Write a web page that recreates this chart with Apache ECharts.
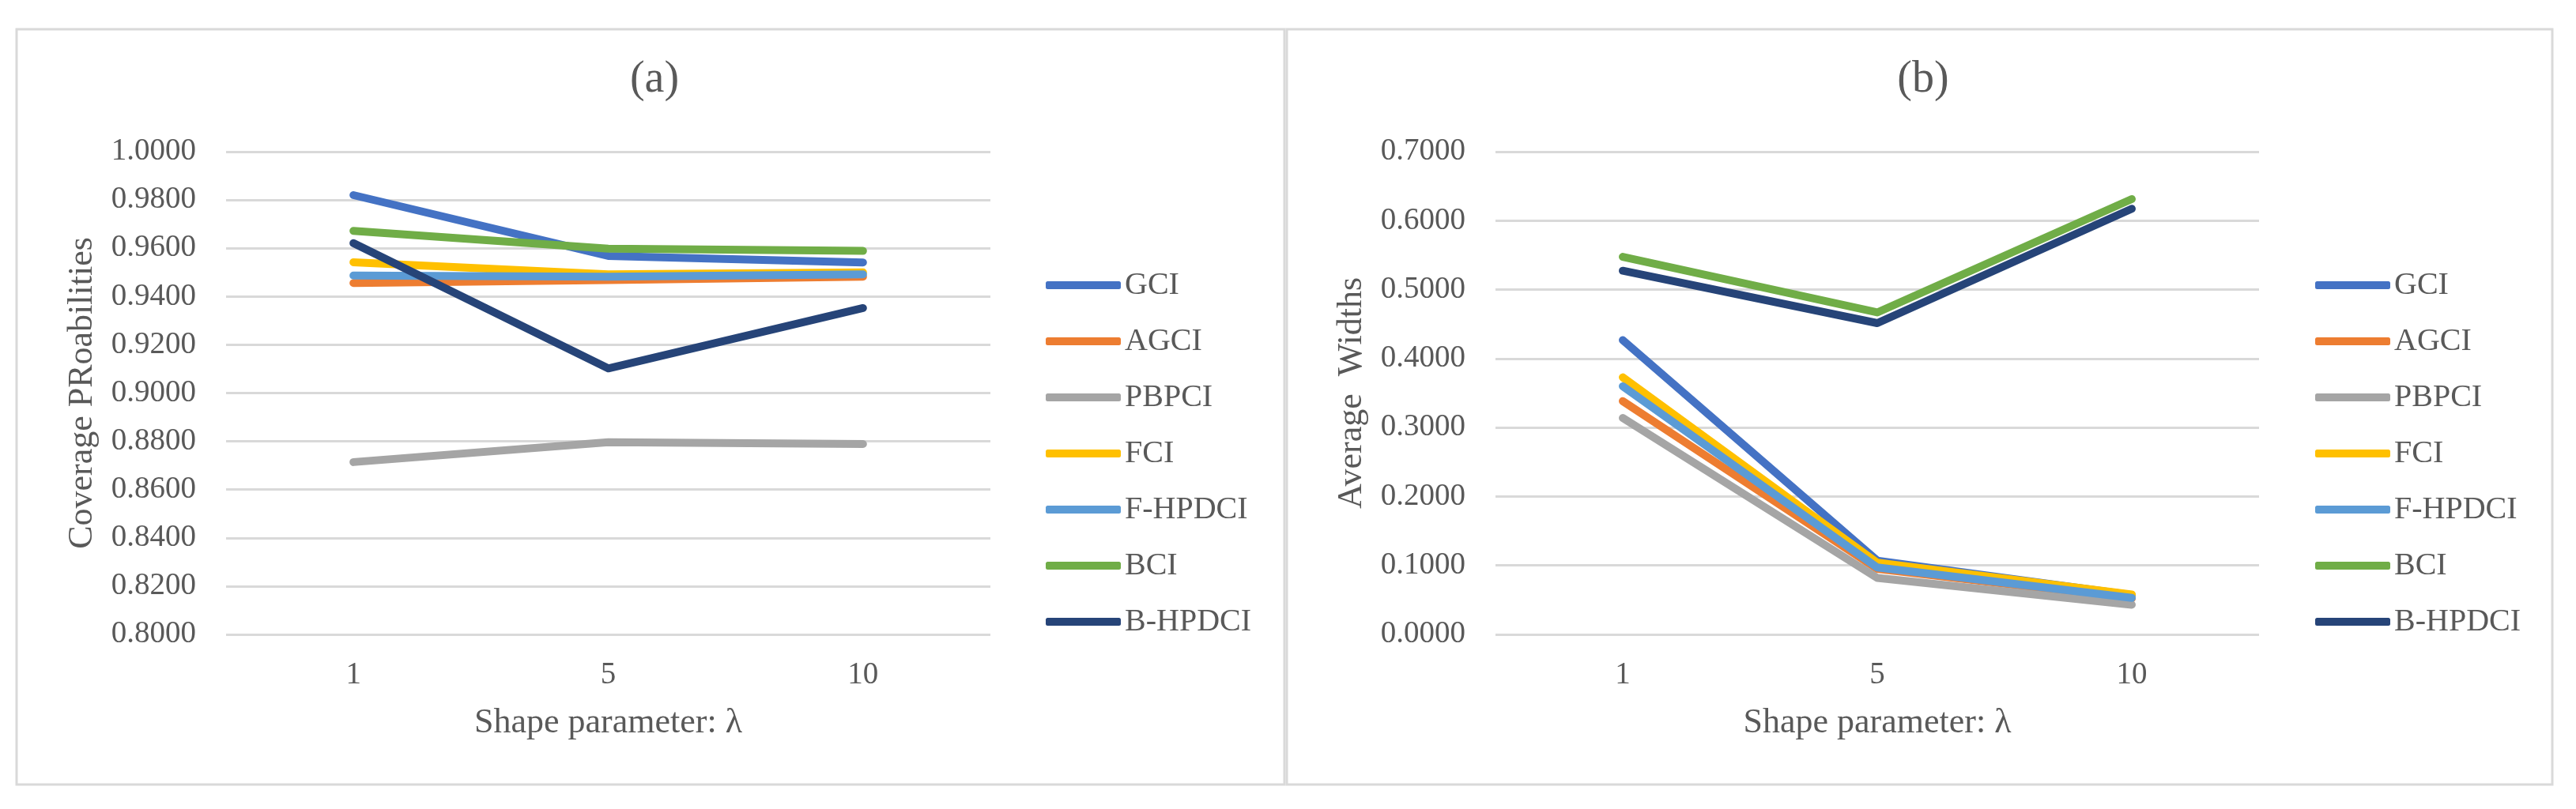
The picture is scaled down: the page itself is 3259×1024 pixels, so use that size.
<!DOCTYPE html>
<html>
<head>
<meta charset="utf-8">
<script src="https://cdn.jsdelivr.net/npm/echarts@6/dist/echarts.min.js"></script>
<style>
  html, body { margin: 0; padding: 0; background: #ffffff; }
  #chart { width: 3259px; height: 1024px; }
</style>
</head>
<body>
<div id="chart"></div>
<script>
// ---- data ----
const categories = ['1', '5', '10'];
const seriesNames = ['GCI', 'AGCI', 'PBPCI', 'FCI', 'F-HPDCI', 'BCI', 'B-HPDCI'];
const seriesColors = ['#4472C4', '#ED7D31', '#A5A5A5', '#FFC000', '#5B9BD5', '#70AD47', '#264478'];

// (a) Coverage probabilities
const cpGCI    = [0.9820, 0.9568, 0.9541];
const cpAGCI   = [0.9456, 0.9468, 0.9482];
const cpPBPCI  = [0.8714, 0.8796, 0.8789];
const cpFCI    = [0.9542, 0.9492, 0.9500];
const cpFHPDCI = [0.9487, 0.9482, 0.9492];
const cpBCI    = [0.9672, 0.9598, 0.9589];
const cpBHPDCI = [0.9621, 0.9102, 0.9352];

// (b) Average widths
const awGCI    = [0.4268, 0.1070, 0.0570];
const awAGCI   = [0.3383, 0.0950, 0.0520];
const awPBPCI  = [0.3138, 0.0820, 0.0430];
const awFCI    = [0.3728, 0.1040, 0.0580];
const awFHPDCI = [0.3598, 0.0970, 0.0530];
const awBCI    = [0.5475, 0.4669, 0.6313];
const awBHPDCI = [0.5274, 0.4514, 0.6172];

const titleA = '(a)';
const titleB = '(b)';
const yNameA = 'Coverage PRoabilities';
const yNameB = 'Average  Widths';
const xName = 'Shape parameter: \u03BB';

// ---- chart ----
const FONT = '"Liberation Serif", "Times New Roman", serif';
const TXT = '#595959';
const GRID = '#D9D9D9';

const dataA = [cpGCI, cpAGCI, cpPBPCI, cpFCI, cpFHPDCI, cpBCI, cpBHPDCI];
const dataB = [awGCI, awAGCI, awPBPCI, awFCI, awFHPDCI, awBCI, awBHPDCI];

function makeSeries(data, idx) {
  return data.map((d, i) => ({
    name: seriesNames[i],
    type: 'line',
    xAxisIndex: idx,
    yAxisIndex: idx,
    data: d,
    symbol: 'none',
    color: seriesColors[i],
    lineStyle: { width: 10, color: seriesColors[i], cap: 'round', join: 'round' },
    z: 2 + i,
    animation: false
  }));
}

function xAxisCfg(gridIndex) {
  return {
    type: 'category',
    gridIndex,
    data: categories,
    boundaryGap: true,
    axisLine: { show: false },
    axisTick: { show: false },
    axisLabel: { color: TXT, fontFamily: FONT, fontSize: 39, margin: 32 },
    name: xName,
    nameLocation: 'middle',
    nameGap: 90,
    nameTextStyle: { color: TXT, fontFamily: FONT, fontSize: 44 }
  };
}

function yAxisCfg(gridIndex, min, max, interval, name) {
  return {
    type: 'value',
    gridIndex,
    min, max, interval,
    axisLine: { show: false },
    axisTick: { show: false },
    axisLabel: { color: TXT, fontFamily: FONT, fontSize: 39, margin: 38,
                 formatter: v => v.toFixed(4) },
    splitLine: { lineStyle: { color: GRID, width: 3 } },
    name,
    nameLocation: 'middle',
    nameGap: 160,
    nameTextStyle: { color: TXT, fontFamily: FONT, fontSize: 44 }
  };
}

function legendCfg(left) {
  return {
    data: seriesNames,
    orient: 'vertical',
    left, top: 336,
    icon: 'roundRect',
    itemWidth: 95, itemHeight: 10,
    itemGap: 31,
    textStyle: { color: TXT, fontFamily: FONT, fontSize: 40, lineHeight: 40 }
  };
}

const chart = echarts.init(document.getElementById('chart'), null, { renderer: 'canvas' });
chart.setOption({
  backgroundColor: '#ffffff',
  animation: false,
  title: [
    { text: titleA, left: 823, top: 68, textAlign: 'center',
      textStyle: { color: TXT, fontFamily: FONT, fontSize: 56, fontWeight: 'normal' } },
    { text: titleB, left: 2428, top: 68, textAlign: 'center',
      textStyle: { color: TXT, fontFamily: FONT, fontSize: 56, fontWeight: 'normal' } }
  ],
  legend: [ legendCfg(1318), legendCfg(2924) ],
  grid: [
    { left: 286, top: 192, width: 967, height: 611 },
    { left: 1892, top: 192, width: 966, height: 611 }
  ],
  xAxis: [xAxisCfg(0), xAxisCfg(1)],
  yAxis: [
    yAxisCfg(0, 0.8, 1.0, 0.02, yNameA),
    yAxisCfg(1, 0, 0.7, 0.1, yNameB)
  ],
  series: makeSeries(dataA, 0).concat(makeSeries(dataB, 1)),
  graphic: [
    { type: 'rect', shape: { x: 21, y: 37, width: 1604, height: 956 },
      style: { fill: null, stroke: GRID, lineWidth: 3 }, silent: true },
    { type: 'rect', shape: { x: 1628, y: 37, width: 1601, height: 956 },
      style: { fill: null, stroke: GRID, lineWidth: 3 }, silent: true }
  ]
});
</script>
</body>
</html>
